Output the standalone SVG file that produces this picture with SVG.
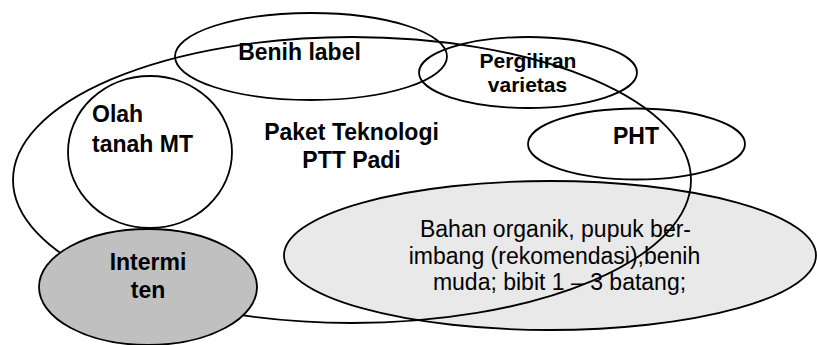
<svg xmlns="http://www.w3.org/2000/svg" width="817" height="345" viewBox="0 0 817 345">
<style>
.o{fill:none;stroke:#000;stroke-width:1.8}
.t{font-family:"Liberation Sans",Arial,sans-serif;font-weight:bold;font-size:23px;fill:#000;text-anchor:middle}
.s{font-size:21px}
.n{font-family:"Liberation Sans",Arial,sans-serif;font-size:23px;fill:#000;text-anchor:middle}
</style>
<rect width="817" height="345" fill="#fff"/>
<g id="bahan">
<ellipse cx="550" cy="255.5" rx="266" ry="74.5" fill="#e9e9e9" stroke="#000" stroke-width="1.8"/>
<text class="n" x="555.5" y="237">Bahan organik, pupuk ber-</text>
<text class="n" x="554.5" y="264">imbang (rekomendasi),benih</text>
<text class="n" x="559.5" y="290">muda; bibit 1 – 3 batang;</text>
</g>
<g id="paket">
<ellipse class="o" cx="352" cy="180" rx="339" ry="143"/>
<text class="t" x="351.5" y="140">Paket Teknologi</text>
<text class="t" x="351.5" y="168">PTT Padi</text>
</g>
<g id="benih">
<ellipse class="o" cx="311" cy="56.5" rx="136" ry="43.5"/>
<text class="t" x="299.5" y="60">Benih label</text>
</g>
<g id="pergiliran">
<ellipse class="o" cx="528" cy="72.5" rx="109" ry="35.5"/>
<text class="t s" x="528" y="68">Pergiliran</text>
<text class="t s" x="527.5" y="92">varietas</text>
</g>
<g id="pht">
<ellipse class="o" cx="636.5" cy="144" rx="108.5" ry="35.5"/>
<text class="t" x="636" y="144">PHT</text>
</g>
<g id="olah">
<ellipse class="o" cx="150" cy="152" rx="82" ry="76"/>
<text class="t" x="92" y="122" text-anchor="start" style="text-anchor:start">Olah</text>
<text class="t" x="92" y="152" style="text-anchor:start">tanah MT</text>
</g>
<g id="intermiten">
<ellipse cx="148" cy="287" rx="109" ry="58" fill="#c0c0c0" stroke="#000" stroke-width="1.8"/>
<text class="t" x="148" y="270">Intermi</text>
<text class="t" x="148" y="298">ten</text>
</g>
<g id="connectors"></g>
</svg>
